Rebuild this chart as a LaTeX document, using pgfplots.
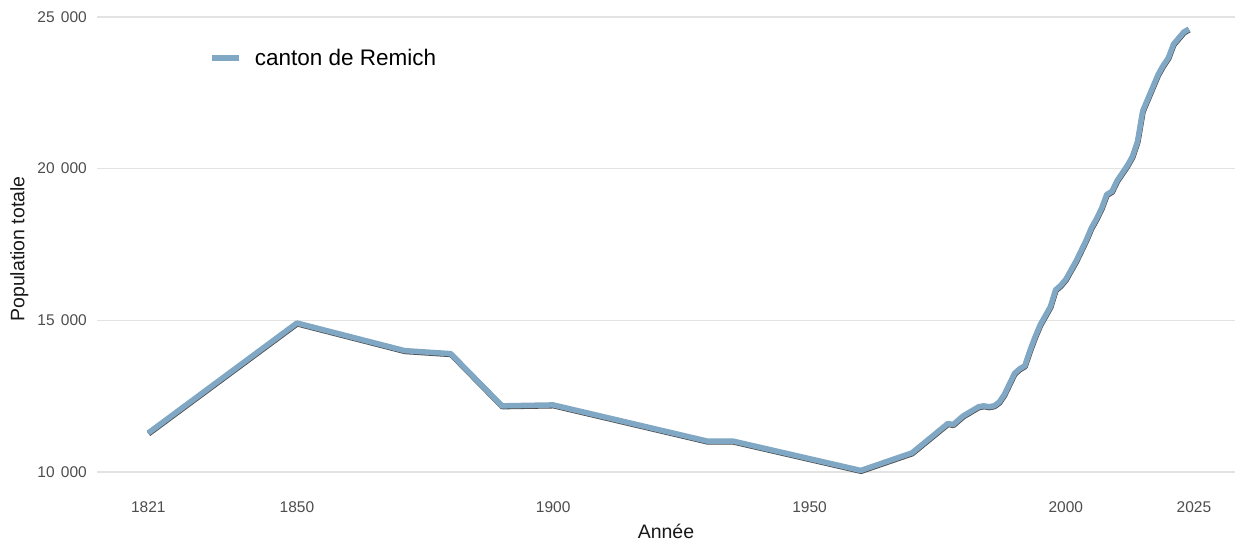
\documentclass[border=0pt]{standalone}
\usepackage{pgfplots}
\pgfplotsset{compat=1.18}
\usepackage{fontspec}
\setmainfont{Liberation Sans}
\definecolor{lineblue}{HTML}{80A8C5}
\definecolor{tickgray}{HTML}{4D4D4D}
\definecolor{gridgray}{HTML}{E3E3E3}
\pgfplotstableread{
year pop
1821 11285
1850 14910
1871 14000
1880 13900
1890 12180
1900 12210
1930 11020
1935 11020
1960 10050
1970 10630
1977 11600
1978 11560
1980 11850
1981 11950
1983 12150
1984 12180
1985 12150
1986 12180
1987 12300
1988 12550
1989 12900
1990 13250
1991 13400
1992 13500
1993 14000
1994 14450
1995 14850
1996 15150
1997 15450
1998 16000
1999 16150
2000 16350
2001 16650
2002 16950
2003 17300
2004 17650
2005 18050
2006 18350
2007 18700
2008 19150
2009 19250
2010 19600
2011 19850
2012 20100
2013 20400
2014 20900
2015 21900
2016 22300
2017 22700
2018 23100
2019 23400
2020 23650
2021 24100
2022 24300
2023 24500
2024 24600
}\popdata
\begin{document}
\begin{tikzpicture}[x=1pt,y=1pt]
\path[use as bounding box] (0,0) rectangle (1238,546);
\begin{axis}[
  at={(97pt,52.8pt)}, anchor=south west,
  scale only axis, width=1138pt, height=488.4pt,
  xmin=1811, xmax=2033, ymin=9300, ymax=25400,
  axis line style={draw=none},
  major tick length=0pt,
  xtick={1821,1850,1900,1950,2000,2025},
  xticklabels={1821,1850,1900,1950,2000,2025},
  ytick={10000,15000,20000,25000},
  yticklabels={10\hspace{0.4em}000,15\hspace{0.4em}000,20\hspace{0.4em}000,25\hspace{0.4em}000},
  ymajorgrids, xmajorgrids=false,
  grid style={gridgray, line width=1.3pt},
  ticklabel style={font=\fontsize{15.5}{17}\selectfont, text=tickgray, inner sep=0pt},
  yticklabel style={anchor=east, xshift=-10pt},
  xticklabel style={anchor=north, yshift=-8pt},
  xlabel={Année}, ylabel={Population totale},
  label style={font=\fontsize{19.5}{22}\selectfont, text=black!90, inner sep=0pt},
  xlabel style={at={(axis description cs:0.5,-0.0635)}, anchor=north},
  ylabel style={at={(axis description cs:-0.0602,0.5)}, anchor=south},
  legend style={at={(axis description cs:0.0985,0.891)}, anchor=west, draw=none, fill=none,
    inner sep=0pt, font=\fontsize{22.5}{25}\selectfont, nodes={inner sep=0pt},
    /tikz/every odd column/.append style={column sep=13pt}},
  legend cell align=left,
  legend image code/.code={\draw[#1, line width=5.5pt] (0pt,0pt) -- (27pt,0pt);},
  clip=false,
]
\addplot[draw=black!70, line width=5.5pt, line join=round, yshift=-0.8pt, xshift=0.3pt, forget plot] table[x=year,y=pop] {\popdata};
\addplot[draw=lineblue, line width=5.5pt, line join=round] table[x=year,y=pop] {\popdata};
\addlegendentry{canton de Remich}
\end{axis}
\end{tikzpicture}
\end{document}
